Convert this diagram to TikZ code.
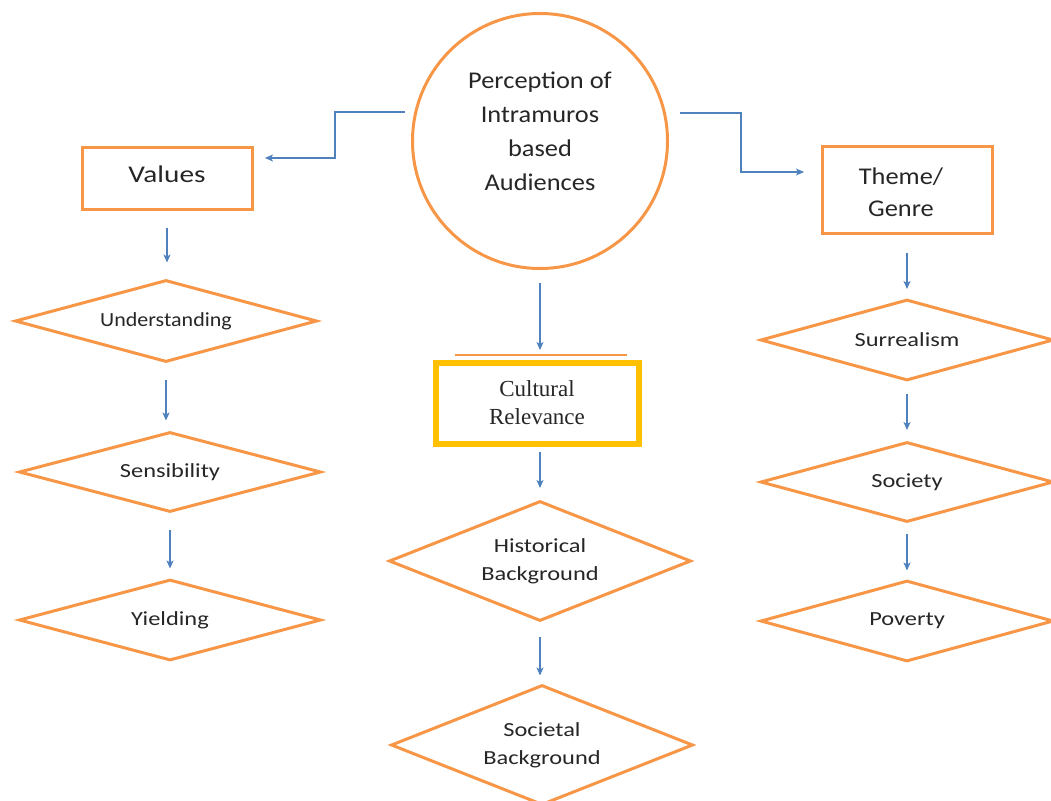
\documentclass[tikz,border=0pt]{standalone}
\usepackage{fontspec}
\setmainfont{Carlito}
\newfontfamily\serifx{Liberation Serif}
\newfontfamily\wide[FakeStretch=1.22]{Carlito}
\newfontfamily\wider[FakeStretch=1.1]{Carlito}
\usetikzlibrary{shapes.geometric,arrows.meta}
\definecolor{orng}{HTML}{F79646}
\definecolor{gold}{HTML}{FFC000}
\definecolor{blu}{HTML}{4F81BD}
\definecolor{txt}{HTML}{262626}
\begin{document}
\begin{tikzpicture}[x=1pt,y=-1pt,
  dia/.style={draw=orng,line width=3pt,diamond,shape aspect=3.7,inner sep=0pt,
    minimum width=#1,align=center,text=txt,font=\wide\fontsize{20}{28}\selectfont},
  dia/.default=302,
  box/.style={draw=orng,line width=3pt,rectangle,inner sep=0pt},
  lbl/.style={align=center,text=txt,inner sep=0pt,font=\wider\fontsize{24}{32}\selectfont},
  arr/.style={draw=blu,line width=1.1pt,-{Stealth[length=8pt,width=7pt,inset=2pt]}}]
\useasboundingbox (0,0) rectangle (1051,800);
% central circle
\node[circle,draw=orng,line width=3pt,minimum size=255pt,inner sep=0pt] (c) at (540,141) {};
\node[lbl,font=\wider\fontsize{24}{34}\selectfont] (ct) at (540,131) {Perception of\\Intramuros\\based\\Audiences};
% boxes
\node[box,minimum width=170pt,minimum height=62pt] (val) at (167,178) {};
\node[lbl,font=\wide\fontsize{24}{32}\selectfont] (valt) at (167,174) {Values};
\node[box,minimum width=170pt,minimum height=87pt] (thm) at (907,190) {};
\node[lbl] (thmt) at (901,192) {Theme/\\Genre};
% left column
\node[dia,minimum height=82pt,font=\wider\fontsize{20}{28}\selectfont] (und) at (166,321) {Understanding};
\node[dia,minimum height=80pt] (sen) at (170,472) {Sensibility};
\node[dia,minimum height=81pt] (yie) at (170,620) {Yielding};
% middle column
\draw[orng,line width=1.5pt] (455,355) -- (627,355);
\node[draw=gold,line width=6pt,rectangle,minimum width=203pt,minimum height=81pt,inner sep=0pt,
  align=center,text=txt,font=\serifx\fontsize{23}{28}\selectfont] (cul) at (537,403) {Cultural\\Relevance};
\node[dia,minimum height=120pt] (his) at (540,561) {Historical\\Background};
\node[dia,minimum height=120pt] (soc) at (542,745) {Societal\\Background};
% right column
\node[dia=293,minimum height=81pt] (sur) at (907,340) {Surrealism};
\node[dia=293,minimum height=80pt] (sty) at (907,482) {Society};
\node[dia=293,minimum height=81pt] (pov) at (907,621) {Poverty};
% connectors
\coordinate (l0) at (405,112);
\coordinate (l1) at (335,112);
\coordinate (l2) at (335,158);
\coordinate (l3) at (265,158);
\draw[arr] (l0) -- (l1) -- (l2) -- (l3);
\coordinate (r0) at (680,113);
\coordinate (r1) at (741,113);
\coordinate (r2) at (741,172);
\coordinate (r3) at (804,172);
\draw[arr] (r0) -- (r1) -- (r2) -- (r3);
\draw[arr] (val.south) ++(0,17) -- ++(0,35);
\draw[arr] (und.south) ++(0,16) -- ++(0,41);
\draw[arr] (sen.south) ++(0,16) -- ++(0,39);
\draw[arr] (c.south) ++(0,13) -- ++(0,67);
\draw[arr] (540,452) -- (540,488);
\draw[arr] (his.south) ++(0,14) -- ++(0,39);
\draw[arr] (thm.south) ++(0,18) -- ++(0,36);
\draw[arr] (sur.south) ++(0,12) -- ++(0,36);
\draw[arr] (sty.south) ++(0,10) -- ++(0,37);
\end{tikzpicture}
\end{document}
